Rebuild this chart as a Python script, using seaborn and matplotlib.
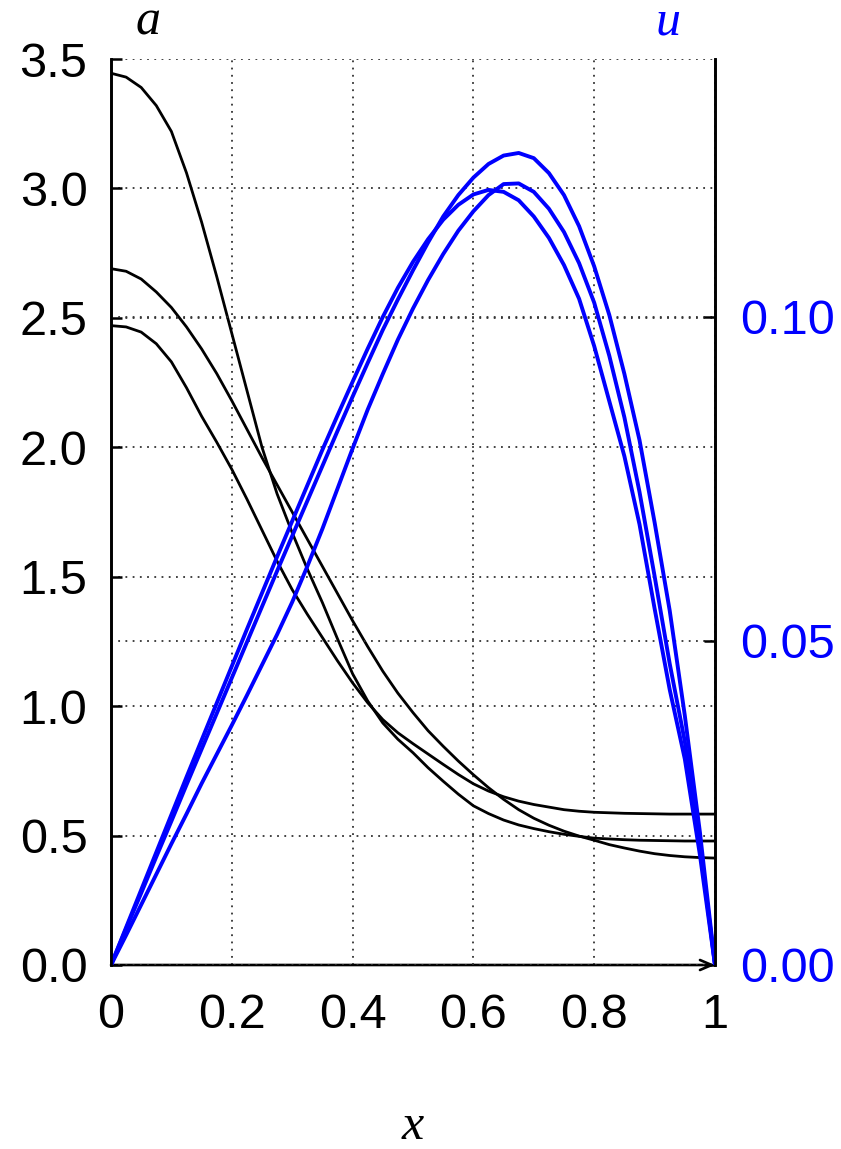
import numpy as np
import pandas as pd
import matplotlib
matplotlib.use("Agg")
import matplotlib.pyplot as plt
import seaborn as sns

# ---------------- data ----------------
x_vals = [0.000, 0.025, 0.050, 0.075, 0.100, 0.125, 0.150, 0.175, 0.200, 0.225,
          0.250, 0.275, 0.300, 0.325, 0.350, 0.375, 0.400, 0.425, 0.450, 0.475,
          0.500, 0.525, 0.550, 0.575, 0.600, 0.625, 0.650, 0.675, 0.700, 0.725,
          0.750, 0.775, 0.800, 0.825, 0.850, 0.875, 0.900, 0.925, 0.950, 0.975,
          1.000]

a_curve1 = [3.445, 3.43, 3.39, 3.32, 3.22, 3.06, 2.87, 2.66, 2.44, 2.22,
            2.00, 1.82, 1.67, 1.53, 1.40, 1.26, 1.125, 1.02, 0.935, 0.872,
            0.82, 0.762, 0.71, 0.66, 0.615, 0.585, 0.56, 0.541, 0.527, 0.515,
            0.505, 0.497, 0.49, 0.487, 0.484, 0.482, 0.481, 0.480, 0.479, 0.479,
            0.479]
a_curve2 = [2.69, 2.68, 2.65, 2.60, 2.54, 2.465, 2.38, 2.285, 2.18, 2.07,
            1.96, 1.855, 1.75, 1.645, 1.54, 1.435, 1.33, 1.23, 1.135, 1.05,
            0.975, 0.905, 0.845, 0.788, 0.735, 0.685, 0.64, 0.60, 0.567, 0.54,
            0.517, 0.498, 0.482, 0.465, 0.452, 0.44, 0.43, 0.423, 0.418, 0.415,
            0.413]
a_curve3 = [2.47, 2.465, 2.445, 2.40, 2.33, 2.23, 2.12, 2.02, 1.915, 1.80,
            1.68, 1.56, 1.45, 1.355, 1.265, 1.175, 1.09, 1.013, 0.948, 0.897,
            0.855, 0.815, 0.775, 0.736, 0.70, 0.672, 0.65, 0.633, 0.62, 0.61,
            0.60, 0.594, 0.59, 0.588, 0.586, 0.585, 0.584, 0.583, 0.583, 0.583,
            0.583]

u_curve1 = [0.0, 0.0056, 0.0111, 0.0167, 0.0222, 0.0278, 0.0333, 0.0388, 0.0443,
            0.0498, 0.0553, 0.0608, 0.0662, 0.0716, 0.0770, 0.0824, 0.0877,
            0.0929, 0.0980, 0.1027, 0.1072, 0.1115, 0.1155, 0.1188, 0.1215,
            0.1236, 0.1249, 0.1253, 0.1245, 0.1222, 0.1188, 0.1140, 0.1078,
            0.1003, 0.0912, 0.0810, 0.0683, 0.0547, 0.0385, 0.0205, 0.0]
u_curve2 = [0.0, 0.0046, 0.0093, 0.0140, 0.0187, 0.0233, 0.0280, 0.0325, 0.0370,
            0.0416, 0.0463, 0.0510, 0.0560, 0.0615, 0.0673, 0.0735, 0.0797,
            0.0857, 0.0912, 0.0965, 0.1013, 0.1057, 0.1097, 0.1133, 0.1163,
            0.1188, 0.1205, 0.1206, 0.1193, 0.1167, 0.1131, 0.1083, 0.1022,
            0.0940, 0.0845, 0.0730, 0.0600, 0.0465, 0.0345, 0.0185, 0.0]
u_curve3 = [0.0, 0.0058, 0.0116, 0.0174, 0.0232, 0.0290, 0.0347, 0.0404, 0.0461,
            0.0518, 0.0574, 0.0630, 0.0685, 0.0740, 0.0795, 0.0848, 0.0900,
            0.0951, 0.1000, 0.1045, 0.1085, 0.1120, 0.1150, 0.1173, 0.1189,
            0.1196, 0.1193, 0.1180, 0.1155, 0.1122, 0.1080, 0.1028, 0.0955,
            0.0870, 0.0785, 0.0680, 0.0550, 0.0425, 0.0318, 0.0170, 0.0]

left_ticks = [0.0, 0.5, 1.0, 1.5, 2.0, 2.5, 3.0, 3.5]
left_tick_labels = ["0.0", "0.5", "1.0", "1.5", "2.0", "2.5", "3.0", "3.5"]
right_ticks = [0.00, 0.05, 0.10]
right_tick_labels = ["0.00", "0.05", "0.10"]
x_ticks = [0.0, 0.2, 0.4, 0.6, 0.8, 1.0]
x_tick_labels = ["0", "0.2", "0.4", "0.6", "0.8", "1"]

# ---------------- tables ----------------
df_a = pd.concat([
    pd.DataFrame({"x": x_vals, "a": a_curve1, "curve": "a1"}),
    pd.DataFrame({"x": x_vals, "a": a_curve2, "curve": "a2"}),
    pd.DataFrame({"x": x_vals, "a": a_curve3, "curve": "a3"}),
], ignore_index=True)
df_u = pd.concat([
    pd.DataFrame({"x": x_vals, "u": u_curve1, "curve": "u1"}),
    pd.DataFrame({"x": x_vals, "u": u_curve2, "curve": "u2"}),
    pd.DataFrame({"x": x_vals, "u": u_curve3, "curve": "u3"}),
], ignore_index=True)

# ---------------- style ----------------
sns.set_theme(style="white")
plt.rcParams["font.family"] = ["Liberation Sans", "DejaVu Sans"]

BLUE = "#0000ff"
TICK_FS = 35

fig = plt.figure(figsize=(8.41, 11.49), dpi=100)
ax = fig.add_axes([111 / 841, 1 - 965 / 1149, 604 / 841, 906 / 1149])
ax2 = ax.twinx()

sns.lineplot(data=df_a, x="x", y="a", hue="curve", palette=["black"] * 3,
             legend=False, ax=ax, linewidth=2.0, sort=True, estimator=None)
sns.lineplot(data=df_u, x="x", y="u", hue="curve", palette=[BLUE] * 3,
             legend=False, ax=ax2, linewidth=2.8, sort=True, estimator=None)

ax.set_xlim(0, 1)
ax.set_ylim(0, 3.5)
ax2.set_ylim(0, 0.1398)

ax.set_xticks(x_ticks)
ax.set_xticklabels(x_tick_labels)
ax.set_yticks(left_ticks)
ax.set_yticklabels(left_tick_labels)
ax2.set_yticks(right_ticks)
ax2.set_yticklabels(right_tick_labels)

ax.set_xlabel("")
ax.set_ylabel("")
ax2.set_ylabel("")

grid_kw = dict(color="#333333", linestyle=(0, (1, 3.0)), linewidth=1.3)
ax.grid(True, axis="both", **grid_kw)
ax2.grid(True, axis="y", **grid_kw)

ax.tick_params(axis="x", direction="in", length=8, width=1.8, pad=20,
               labelsize=TICK_FS, colors="black", top=False)
ax.tick_params(axis="y", direction="in", length=8, width=1.8, pad=17,
               labelsize=TICK_FS, colors="black", right=False)
ax2.tick_params(axis="y", direction="in", length=8, width=1.8, pad=18,
                labelsize=TICK_FS, colors="black", labelcolor=BLUE)

for a_ in (ax, ax2):
    a_.spines["top"].set_visible(False)
    a_.spines["bottom"].set_visible(False)
    a_.spines["left"].set_linewidth(1.9)
    a_.spines["right"].set_linewidth(1.9)
    a_.spines["left"].set_color("black")
    a_.spines["right"].set_color("black")

# bottom axis with arrow
ax.annotate("", xy=(1.0, 0.0), xytext=(0.0, 0.0), xycoords="axes fraction",
            textcoords="axes fraction",
            arrowprops=dict(arrowstyle="->,head_length=0.7,head_width=0.3",
                            lw=1.9, color="black", shrinkA=0, shrinkB=0))

label_font = ["Liberation Serif", "DejaVu Serif"]
ax.text(0.061, 1.041, "a", transform=ax.transAxes, ha="center", va="center",
        fontsize=36, style="italic", family=label_font, color="black")
ax.text(0.922, 1.041, "u", transform=ax.transAxes, ha="center", va="center",
        fontsize=36, style="italic", family=label_font, color=BLUE)
ax.text(0.5, -0.1925, "x", transform=ax.transAxes, ha="center", va="baseline",
        fontsize=36, style="italic", family=label_font, color="black")

fig.savefig("out.png", dpi=100)
